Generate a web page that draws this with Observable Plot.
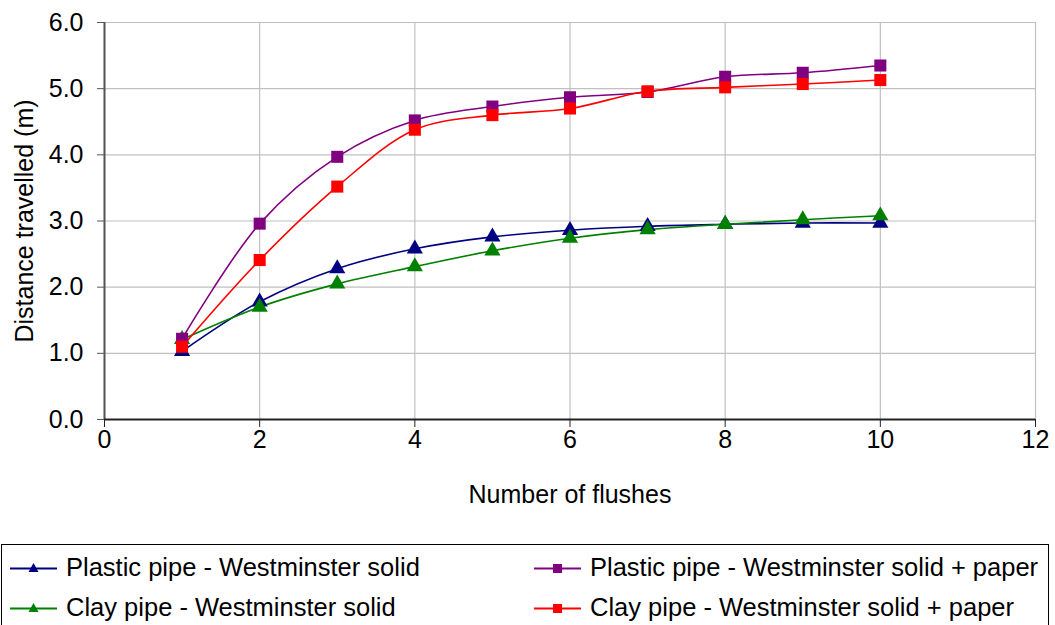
<!DOCTYPE html>
<html>
<head>
<meta charset="utf-8">
<script src="https://cdn.jsdelivr.net/npm/d3@7"></script>
<script src="https://cdn.jsdelivr.net/npm/@observablehq/plot@0.6"></script>
<style>
  body { margin: 0; background: #fff; font-family: "Liberation Sans", Arial, sans-serif; }
  #wrap { position: relative; width: 1055px; height: 625px; overflow: hidden; }
  #legend { position: absolute; left: 1px; top: 544px; width: 1048px; height: 100px; border: 1.5px solid #000; box-sizing: border-box; font-size: 25.5px; color: #000; }
  .item { position: absolute; display: flex; align-items: center; white-space: nowrap; }
  .item svg { margin-right: 8px; }
</style>
</head>
<body>
<div id="wrap"><div id="chart"></div><div id="legend"></div></div>
<script>
const flushes = [1, 2, 3, 4, 5, 6, 7, 8, 9, 10];
const plasticSolid = [1.03, 1.78, 2.28, 2.58, 2.76, 2.86, 2.92, 2.95, 2.97, 2.97];
const claySolid = [1.21, 1.70, 2.05, 2.31, 2.55, 2.74, 2.87, 2.95, 3.02, 3.08];
const plasticPaper = [1.22, 2.96, 3.97, 4.52, 4.73, 4.87, 4.95, 5.18, 5.24, 5.35];
const clayPaper = [1.10, 2.41, 3.52, 4.38, 4.60, 4.70, 4.96, 5.02, 5.07, 5.13];
const seriesNames = [
  "Plastic pipe - Westminster solid",
  "Clay pipe - Westminster solid",
  "Plastic pipe - Westminster solid + paper",
  "Clay pipe - Westminster solid + paper"
];
const seriesColors = ["#000080", "#008000", "#800080", "#ff0000"];
const seriesSymbols = ["triangle", "triangle", "square", "square"];
const xTicks = [0, 2, 4, 6, 8, 10, 12];
const yTicks = [0, 1, 2, 3, 4, 5, 6];

const allSeries = [plasticSolid, claySolid, plasticPaper, clayPaper];
const data = [];
allSeries.forEach((vals, i) => vals.forEach((v, j) => data.push({x: flushes[j], y: v, s: seriesNames[i]})));

const marks = [
  Plot.gridX(xTicks, {stroke: "#c0c0c0", strokeOpacity: 1, strokeWidth: 1.2}),
  Plot.gridY(yTicks, {stroke: "#c0c0c0", strokeOpacity: 1, strokeWidth: 1.2}),
  Plot.ruleX([0], {stroke: "#555", strokeWidth: 2}),
  Plot.ruleY([0], {stroke: "#222", strokeWidth: 2}),
];
seriesNames.forEach((name, i) => {
  const d = data.filter(r => r.s === name);
  marks.push(Plot.line(d, {x: "x", y: "y", stroke: seriesColors[i], strokeWidth: 1.6, curve: "catmull-rom"}));
});
seriesNames.forEach((name, i) => {
  const d = data.filter(r => r.s === name);
  marks.push(Plot.dot(d, {x: "x", y: "y", fill: seriesColors[i], stroke: "none", symbol: seriesSymbols[i], r: seriesSymbols[i] === "square" ? 6.8 : 6}));
});
marks.push(Plot.axisX(xTicks, {tickSize: 8, tickPadding: 3, fontSize: 25, stroke: "#222", label: null, tickFormat: d => String(d)}));
marks.push(Plot.axisY(yTicks, {tickSize: 7, tickPadding: 14, fontSize: 25, stroke: "#555", label: null, tickFormat: d => d.toFixed(1)}));
marks.push(Plot.text(["Number of flushes"], {frameAnchor: "bottom", dy: 83, fontSize: 25, fill: "#000"}));
marks.push(Plot.text(["Distance travelled (m)"], {frameAnchor: "left", dx: -80, rotate: -90, textAnchor: "middle", fontSize: 25, fill: "#000"}));

const chart = Plot.plot({
  width: 1055,
  height: 544,
  marginLeft: 104,
  marginRight: 20,
  marginTop: 22,
  marginBottom: 125,
  style: {fontFamily: "'Liberation Sans', Arial, sans-serif", color: "#000", background: "#fff"},
  x: {domain: [0, 12]},
  y: {domain: [0, 6]},
  marks
});
document.getElementById("chart").appendChild(chart);

const legend = document.getElementById("legend");
const pos = [[8, 24], [8, 64], [532, 24], [532, 64]];
seriesNames.forEach((name, i) => {
  const item = document.createElement("div");
  item.className = "item";
  item.style.left = pos[i][0] + "px";
  item.style.top = (pos[i][1] - 16) + "px";
  const sym = seriesSymbols[i] === "square"
    ? `<rect x="19" y="5" width="9" height="9" fill="${seriesColors[i]}"/>`
    : `<path d="M23.5,4 L28.5,13 L18.5,13 Z" fill="${seriesColors[i]}"/>`;
  item.innerHTML = `<svg width="48" height="18"><line x1="0" y1="9.5" x2="47" y2="9.5" stroke="${seriesColors[i]}" stroke-width="2"/>${sym}</svg><span>${name}</span>`;
  legend.appendChild(item);
});
</script>
</body>
</html>
